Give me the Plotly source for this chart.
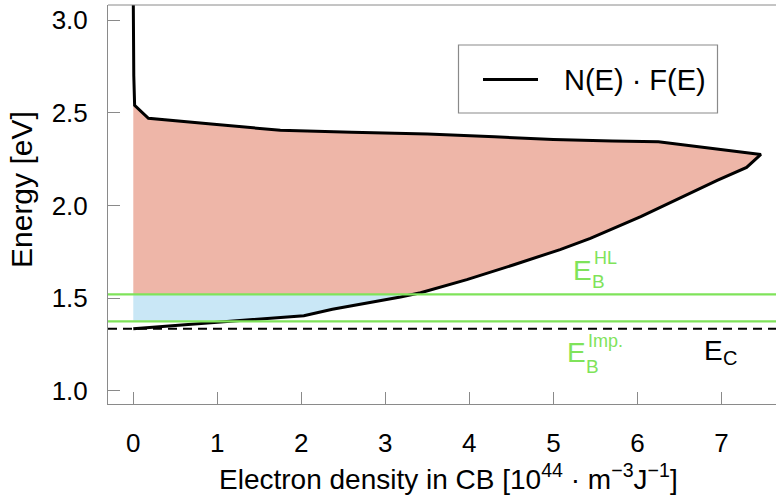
import numpy as np
import plotly.graph_objects as go

# ---------------- data ----------------
# N(E)·F(E) curve, traced from top (high energy) through the tip down to E_C
curve_x = [0.0, 0.002, 0.006, 0.016, 0.18, 0.96, 1.75, 2.6, 3.5, 4.3, 5.0, 5.7, 6.25,
           7.47, 7.3, 6.95, 6.63, 6.04, 5.44, 5.08, 4.53, 3.97, 3.42, 3.18, 2.37, 2.03, 1.0, 0.0]
curve_e = [3.10, 2.90, 2.70, 2.54, 2.47, 2.438, 2.405, 2.395, 2.385, 2.37, 2.356, 2.348, 2.343,
           2.275, 2.205, 2.135, 2.065, 1.94, 1.822, 1.762, 1.68, 1.600, 1.529, 1.506, 1.440, 1.405, 1.37, 1.335]

E_C = 1.335        # conduction band edge (dashed)
E_B_imp = 1.375    # E_B^Imp. (green)
E_B_HL = 1.52      # E_B^HL (green)

x_ticks = [0, 1, 2, 3, 4, 5, 6, 7]
y_ticks = [1.0, 1.5, 2.0, 2.5, 3.0]
x_range = [-0.301, 7.65]
y_range = [0.929, 3.081]

legend_label = "N(E) · F(E)"
x_title = "Electron density in CB [10<sup>44</sup> · m<sup>−3</sup>J<sup>−1</sup>]"
y_title = "Energy [eV]"

# ---------------- styles ----------------
RED_FILL = "#EEB6A8"
BLUE_FILL = "#C9E7F6"
GREEN = "#7FE35A"
AXIS_GREY = "#8a8a8a"
FONT = "Liberation Sans, Arial, sans-serif"

W, H = 776, 497
L, R, T, B = 108, 776, 5, 404   # plot-area pixel box


def fx(px):
    return (px - L) / (R - L)


def fy(py):
    return (B - py) / (B - T)


cx = np.array(curve_x)
ce = np.array(curve_e)
tip = int(np.argmax(cx))
lo_x, lo_e = cx[tip:], ce[tip:]          # lower branch, E decreasing


def x_on_lower(e):
    return float(np.interp(e, lo_e[::-1], lo_x[::-1]))


# red region: between x=0 and curve, above E_B^HL
top_start = 3  # first point of the curve's non-vertical part
sel = [i for i in range(top_start, len(cx)) if ce[i] > E_B_HL]
red_x = [0.0] + [cx[i] for i in sel] + [x_on_lower(E_B_HL), 0.0]
red_e = [ce[top_start]] + [ce[i] for i in sel] + [E_B_HL, E_B_HL]

# blue region: between x=0 and curve, between the two green levels
selb = [i for i in range(tip, len(cx)) if E_B_imp < ce[i] < E_B_HL]
blue_x = [0.0, x_on_lower(E_B_HL)] + [cx[i] for i in selb] + [x_on_lower(E_B_imp), 0.0]
blue_e = [E_B_HL, E_B_HL] + [ce[i] for i in selb] + [E_B_imp, E_B_imp]

fig = go.Figure()
fig.add_trace(go.Scatter(x=red_x, y=red_e, mode="lines", fill="toself", fillcolor=RED_FILL,
                         line=dict(width=0), hoverinfo="skip", showlegend=False))
fig.add_trace(go.Scatter(x=blue_x, y=blue_e, mode="lines", fill="toself", fillcolor=BLUE_FILL,
                         line=dict(width=0), hoverinfo="skip", showlegend=False))

shapes = []
for lvl in (E_B_HL, E_B_imp):
    shapes.append(dict(type="line", xref="paper", yref="y", x0=0, x1=1, y0=lvl, y1=lvl,
                       line=dict(color=GREEN, width=2.2)))
shapes.append(dict(type="line", xref="paper", yref="y", x0=0, x1=1, y0=E_C, y1=E_C,
                   line=dict(color="black", width=2, dash="9px,6px")))
# top frame line
shapes.append(dict(type="line", xref="paper", yref="paper", x0=0, x1=1, y0=1, y1=1,
                   line=dict(color=AXIS_GREY, width=1)))
# legend box
shapes.append(dict(type="rect", xref="paper", yref="paper", x0=fx(458.5), x1=fx(717.5),
                   y0=fy(113), y1=fy(45), line=dict(color=AXIS_GREY, width=1.2),
                   fillcolor="white"))
shapes.append(dict(type="line", xref="paper", yref="paper", x0=fx(483), x1=fx(538),
                   y0=fy(79.5), y1=fy(79.5), line=dict(color="black", width=3)))

fig.add_trace(go.Scatter(x=curve_x, y=curve_e, mode="lines", name=legend_label,
                         line=dict(color="black", width=3), showlegend=False))

ann = []


def txt(s, px, py, size, color="black", anchor="center", angle=0):
    ann.append(dict(text=s, xref="paper", yref="paper", x=fx(px), y=fy(py), showarrow=False,
                    xanchor=anchor, yanchor="middle", textangle=angle,
                    font=dict(family=FONT, size=size, color=color)))


txt(legend_label, 562, 80, 29, anchor="left")
# level labels
txt("E", 582.5, 270, 28, GREEN)
txt("HL", 605, 258, 18, GREEN)
txt("B", 598.5, 281, 19, GREEN)
txt("E", 576.5, 352, 28, GREEN)
txt("Imp.", 605.5, 341, 18, GREEN)
txt("B", 592, 366, 19, GREEN)
txt("E", 713.5, 350, 28, "black")
txt("C", 730, 358, 20, "black")
# axis titles
txt(x_title, 448, 477, 28)
txt(y_title, 21, 190, 30, angle=-90)

fig.update_layout(
    width=W, height=H, margin=dict(l=L, r=W - R, t=T, b=H - B, pad=0),
    plot_bgcolor="white", paper_bgcolor="white",
    shapes=shapes, annotations=ann, showlegend=False,
    font=dict(family=FONT, color="black"),
)
fig.update_xaxes(range=x_range, tickvals=x_ticks, ticktext=[str(v) for v in x_ticks],
                 ticks="inside", ticklen=12, tickcolor=AXIS_GREY, tickwidth=1,
                 showline=True, linecolor=AXIS_GREY, linewidth=1, showgrid=False, zeroline=False,
                 tickfont=dict(size=26, family=FONT, color="black"), ticklabelstandoff=16)
fig.update_yaxes(range=y_range, tickvals=y_ticks, ticktext=[f"{v:.1f}" for v in y_ticks],
                 ticks="inside", ticklen=12, tickcolor=AXIS_GREY, tickwidth=1,
                 showline=True, linecolor=AXIS_GREY, linewidth=1, showgrid=False, zeroline=False,
                 tickfont=dict(size=26, family=FONT, color="black"), ticklabelstandoff=14)

fig.write_html("out.html")
